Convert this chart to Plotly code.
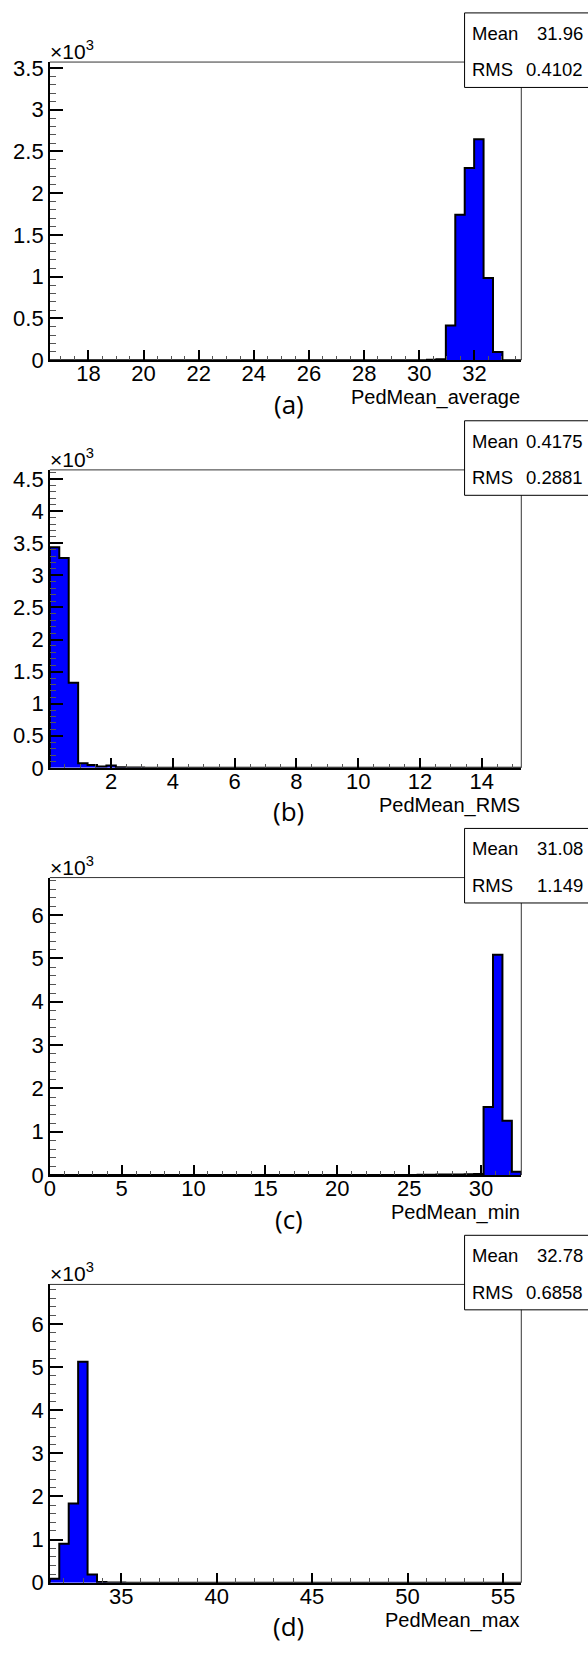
import numpy as np
import plotly.graph_objects as go

# ---------------- data (histogram bin contents, 50 bins each) ----------------
a_range = [16.60, 33.70]
a_counts = [0, 0, 0, 0, 0, 0, 0, 0, 0, 0,
            0, 0, 0, 0, 0, 0, 0, 0, 0, 0,
            0, 0, 0, 0, 0, 0, 0, 0, 0, 0,
            0, 0, 0, 0, 0, 0, 0, 0, 0, 0,
            4, 12, 414, 1742, 2302, 2645, 985, 98, 0, 0]

b_range = [0.02, 15.28]
b_counts = [3440, 3270, 1326, 72, 46, 20, 36, 10, 6, 4,
            3, 2, 2, 1, 1, 0, 0, 0, 0, 0,
            0, 0, 0, 0, 0, 0, 0, 0, 0, 0,
            0, 0, 0, 0, 0, 0, 0, 0, 0, 0,
            0, 0, 0, 0, 0, 0, 0, 0, 0, 0]

c_range = [0.0, 32.8]
c_counts = [0, 0, 0, 0, 0, 0, 0, 0, 0, 0,
            0, 0, 0, 0, 0, 0, 0, 0, 0, 0,
            0, 0, 0, 0, 0, 0, 0, 0, 0, 0,
            0, 0, 0, 0, 0, 0, 0, 0, 0, 8,
            10, 12, 14, 16, 20, 25, 1569, 5086, 1256, 76]

d_range = [31.26, 55.96]
d_counts = [92, 904, 1839, 5126, 190, 15, 5, 3, 0, 0,
            0, 0, 0, 0, 0, 0, 0, 0, 0, 0,
            0, 0, 0, 0, 0, 0, 0, 0, 0, 0,
            0, 0, 0, 0, 0, 0, 0, 0, 0, 0,
            0, 0, 0, 0, 0, 0, 0, 0, 0, 0]

titles = ["PedMean_average", "PedMean_RMS", "PedMean_min", "PedMean_max"]
tags = ["(a)", "(b)", "(c)", "(d)"]
means = ["31.96", "0.4175", "31.08", "32.78"]
rmss = ["0.4102", "0.2881", "1.149", "0.6858"]

# ---------------- layout geometry (pixels) ----------------
W, H = 588, 1653
FX0, FX1 = 44.3, 520.6
frames = [(56.7, 358.3), (469.3, 770.7), (881.7, 1182.7), (1293.3, 1595.0)]
x_dticks = [(2, 0.5), (2, 0.5), (5, 1), (5, 1)]
y_dticks = [(0.5, 0.1), (0.5, 0.1), (1, 0.2), (1, 0.2)]

FONT = "Liberation Sans"


def px(x):
    return x / W


def py(y):
    return 1 - y / H


fig = go.Figure()
shapes = []
annotations = []
layout_axes = {}

datasets = [(a_range, a_counts), (b_range, b_counts), (c_range, c_counts), (d_range, d_counts)]

for i, ((rng, counts), (ftop, fbot)) in enumerate(zip(datasets, frames)):
    n = len(counts)
    edges = np.linspace(rng[0], rng[1], n + 1)
    vals = np.array(counts, dtype=float) / 1000.0
    xs = [edges[0]] + list(edges) + [edges[-1]]
    ys = [0.0] + list(vals) + [vals[-1], 0.0]
    sfx = "" if i == 0 else str(i + 1)
    fig.add_trace(go.Scatter(
        x=xs, y=ys, mode="lines", line=dict(shape="hv", color="black", width=2),
        fill="tozeroy", fillcolor="#0000ff", xaxis="x" + sfx, yaxis="y" + sfx,
        showlegend=False, hoverinfo="skip"))

    ymax = vals.max() * 1.35
    xd, xm = x_dticks[i]
    yd, ym = y_dticks[i]
    layout_axes["xaxis" + sfx] = dict(
        domain=[px(FX0), px(FX1)], range=rng, anchor="y" + sfx,
        showline=True, linecolor="black", linewidth=1.5, mirror=False,
        ticks="inside", ticklen=10, tickwidth=1.5, tickcolor="black",
        tick0=0, dtick=xd, showgrid=False, zeroline=False,
        ticklabelstandoff=-7,
        tickfont=dict(family=FONT, size=22, color="black"),
        minor=dict(ticks="inside", ticklen=4.5, tickwidth=1, tickcolor="#555",
                   tick0=0, dtick=xm, showgrid=False),
        fixedrange=True)
    layout_axes["yaxis" + sfx] = dict(
        domain=[py(fbot), py(ftop)], range=[0, ymax], anchor="x" + sfx,
        showline=True, linecolor="black", linewidth=1.5, mirror=False,
        ticks="inside", ticklen=13, tickwidth=1.5, tickcolor="black",
        tick0=0, dtick=yd, showgrid=False, zeroline=False,
        tickfont=dict(family=FONT, size=22, color="black"),
        minor=dict(ticks="inside", ticklen=6.3, tickwidth=1, tickcolor="#555",
                   tick0=0, dtick=ym, showgrid=False),
        fixedrange=True)

    # frame (top and right edges)
    shapes.append(dict(type="line", xref="paper", yref="paper",
                       x0=px(FX0), x1=px(FX1), y0=py(ftop), y1=py(ftop),
                       line=dict(color="#333", width=1), layer="above"))
    shapes.append(dict(type="line", xref="paper", yref="paper",
                       x0=px(FX1), x1=px(FX1), y0=py(ftop), y1=py(fbot),
                       line=dict(color="#333", width=1), layer="above"))

    # stats box
    btop = ftop - 49.7
    bbot = ftop + 25.7
    shapes.append(dict(type="rect", xref="paper", yref="paper",
                       x0=px(463.3), x1=px(592), y0=py(bbot), y1=py(btop),
                       line=dict(color="black", width=1), fillcolor="white",
                       layer="above"))
    for label, val, yc in (("Mean", means[i], btop + 20.7), ("RMS", rmss[i], btop + 57.7)):
        annotations.append(dict(xref="paper", yref="paper", x=px(468.5), y=py(yc),
                                xanchor="left", yanchor="middle", text=label,
                                showarrow=False, font=dict(family=FONT, size=18.5, color="black")))
        annotations.append(dict(xref="paper", yref="paper", x=px(585), y=py(yc),
                                xanchor="right", yanchor="middle", text=val,
                                showarrow=False, font=dict(family=FONT, size=18.5, color="black")))

    # x10^3 label
    annotations.append(dict(xref="paper", yref="paper", x=px(42.5), y=py(ftop + 3),
                            xanchor="left", yanchor="bottom", text="×10<sup>3</sup>",
                            showarrow=False, font=dict(family=FONT, size=21, color="black")))
    # axis title
    annotations.append(dict(xref="paper", yref="paper", x=px(521), y=py(fbot + 38),
                            xanchor="right", yanchor="middle", text=titles[i],
                            showarrow=False, font=dict(family=FONT, size=20, color="black")))
    # panel tag
    annotations.append(dict(xref="paper", yref="paper", x=px(285.5), y=py(fbot + 44),
                            xanchor="center", yanchor="middle", text=tags[i],
                            showarrow=False, font=dict(family="Open Sans", size=26, color="black")))

fig.update_layout(
    width=W, height=H, margin=dict(l=0, r=0, t=0, b=0),
    paper_bgcolor="white", plot_bgcolor="white",
    shapes=shapes, annotations=annotations, showlegend=False,
    **layout_axes)

fig.write_html("out.html", config={"displayModeBar": False})
